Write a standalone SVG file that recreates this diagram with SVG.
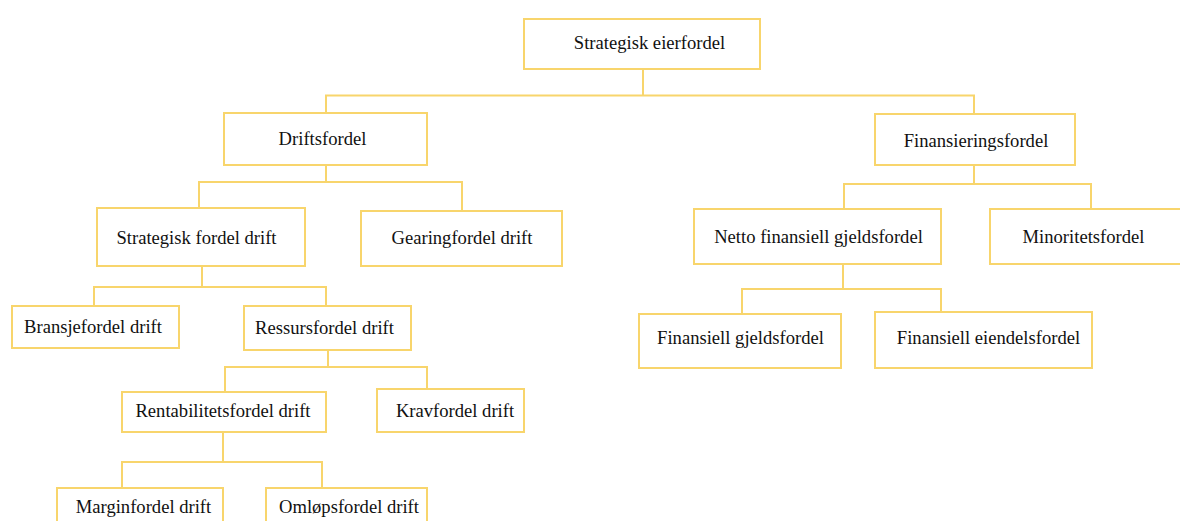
<svg xmlns="http://www.w3.org/2000/svg" width="1180" height="521" viewBox="0 0 1180 521">
  <style>
    .box { fill: #ffffff; stroke: #f8d56c; stroke-width: 2; }
    .link { fill: none; stroke: #f8d56c; stroke-width: 2; }
    .label { font-family: "Liberation Serif", "Times New Roman", serif; font-size: 18.6px; fill: #111111; text-anchor: middle; }
  </style>
  <rect width="1180" height="521" fill="#ffffff"/>

  <!-- tree connectors -->
  <g id="connectors">
    <path class="link" d="M643 69V95.5M326 113V95.5H974V114"/>
    <path class="link" d="M326 165V182M199 208V182H462V211"/>
    <path class="link" d="M202 266V287M94 306V287H326V306"/>
    <path class="link" d="M328 350V367M225 392V367H427V389"/>
    <path class="link" d="M223 432V462M122 488V462H322V488"/>
    <path class="link" d="M974 165V184M844 209V184H1091V209"/>
    <path class="link" d="M843 264V289M742 314V289H941V312"/>
  </g>

  <g id="strategisk-eierfordel">
    <rect class="box" x="524" y="19" width="236" height="50"/>
    <text class="label" x="649.5" y="49">Strategisk eierfordel</text>
  </g>
  <g id="driftsfordel">
    <rect class="box" x="224" y="113" width="203" height="52"/>
    <text class="label" x="322.5" y="145">Driftsfordel</text>
  </g>
  <g id="finansieringsfordel">
    <rect class="box" x="875" y="114" width="200" height="51"/>
    <text class="label" x="976" y="147">Finansieringsfordel</text>
  </g>
  <g id="strategisk-fordel-drift">
    <rect class="box" x="97" y="208" width="208" height="58"/>
    <text class="label" x="196.5" y="244">Strategisk fordel drift</text>
  </g>
  <g id="gearingfordel-drift">
    <rect class="box" x="361" y="211" width="201" height="55"/>
    <text class="label" x="462" y="244">Gearingfordel drift</text>
  </g>
  <g id="netto-finansiell-gjeldsfordel">
    <rect class="box" x="694" y="209" width="247" height="55"/>
    <text class="label" x="818.5" y="243">Netto finansiell gjeldsfordel</text>
  </g>
  <g id="minoritetsfordel">
    <rect class="box" x="990" y="209" width="196" height="55"/>
    <text class="label" x="1083.5" y="243">Minoritetsfordel</text>
  </g>
  <g id="bransjefordel-drift">
    <rect class="box" x="12" y="306" width="167" height="42"/>
    <text class="label" x="93" y="333">Bransjefordel drift</text>
  </g>
  <g id="ressursfordel-drift">
    <rect class="box" x="244" y="306" width="167" height="44"/>
    <text class="label" x="324.5" y="334">Ressursfordel drift</text>
  </g>
  <g id="finansiell-gjeldsfordel">
    <rect class="box" x="639" y="314" width="202" height="54"/>
    <text class="label" x="740.5" y="344">Finansiell gjeldsfordel</text>
  </g>
  <g id="finansiell-eiendelsfordel">
    <rect class="box" x="875" y="312" width="217" height="56"/>
    <text class="label" x="988.5" y="344">Finansiell eiendelsfordel</text>
  </g>
  <g id="rentabilitetsfordel-drift">
    <rect class="box" x="122" y="392" width="204" height="40"/>
    <text class="label" x="223" y="417">Rentabilitetsfordel drift</text>
  </g>
  <g id="kravfordel-drift">
    <rect class="box" x="377" y="389" width="147" height="43"/>
    <text class="label" x="455" y="417">Kravfordel drift</text>
  </g>
  <g id="marginfordel-drift">
    <rect class="box" x="57" y="488" width="166" height="44"/>
    <text class="label" x="143.5" y="513">Marginfordel drift</text>
  </g>
  <g id="omlopsfordel-drift">
    <rect class="box" x="266" y="488" width="161" height="44"/>
    <text class="label" x="349" y="513">Omløpsfordel drift</text>
  </g>
</svg>
